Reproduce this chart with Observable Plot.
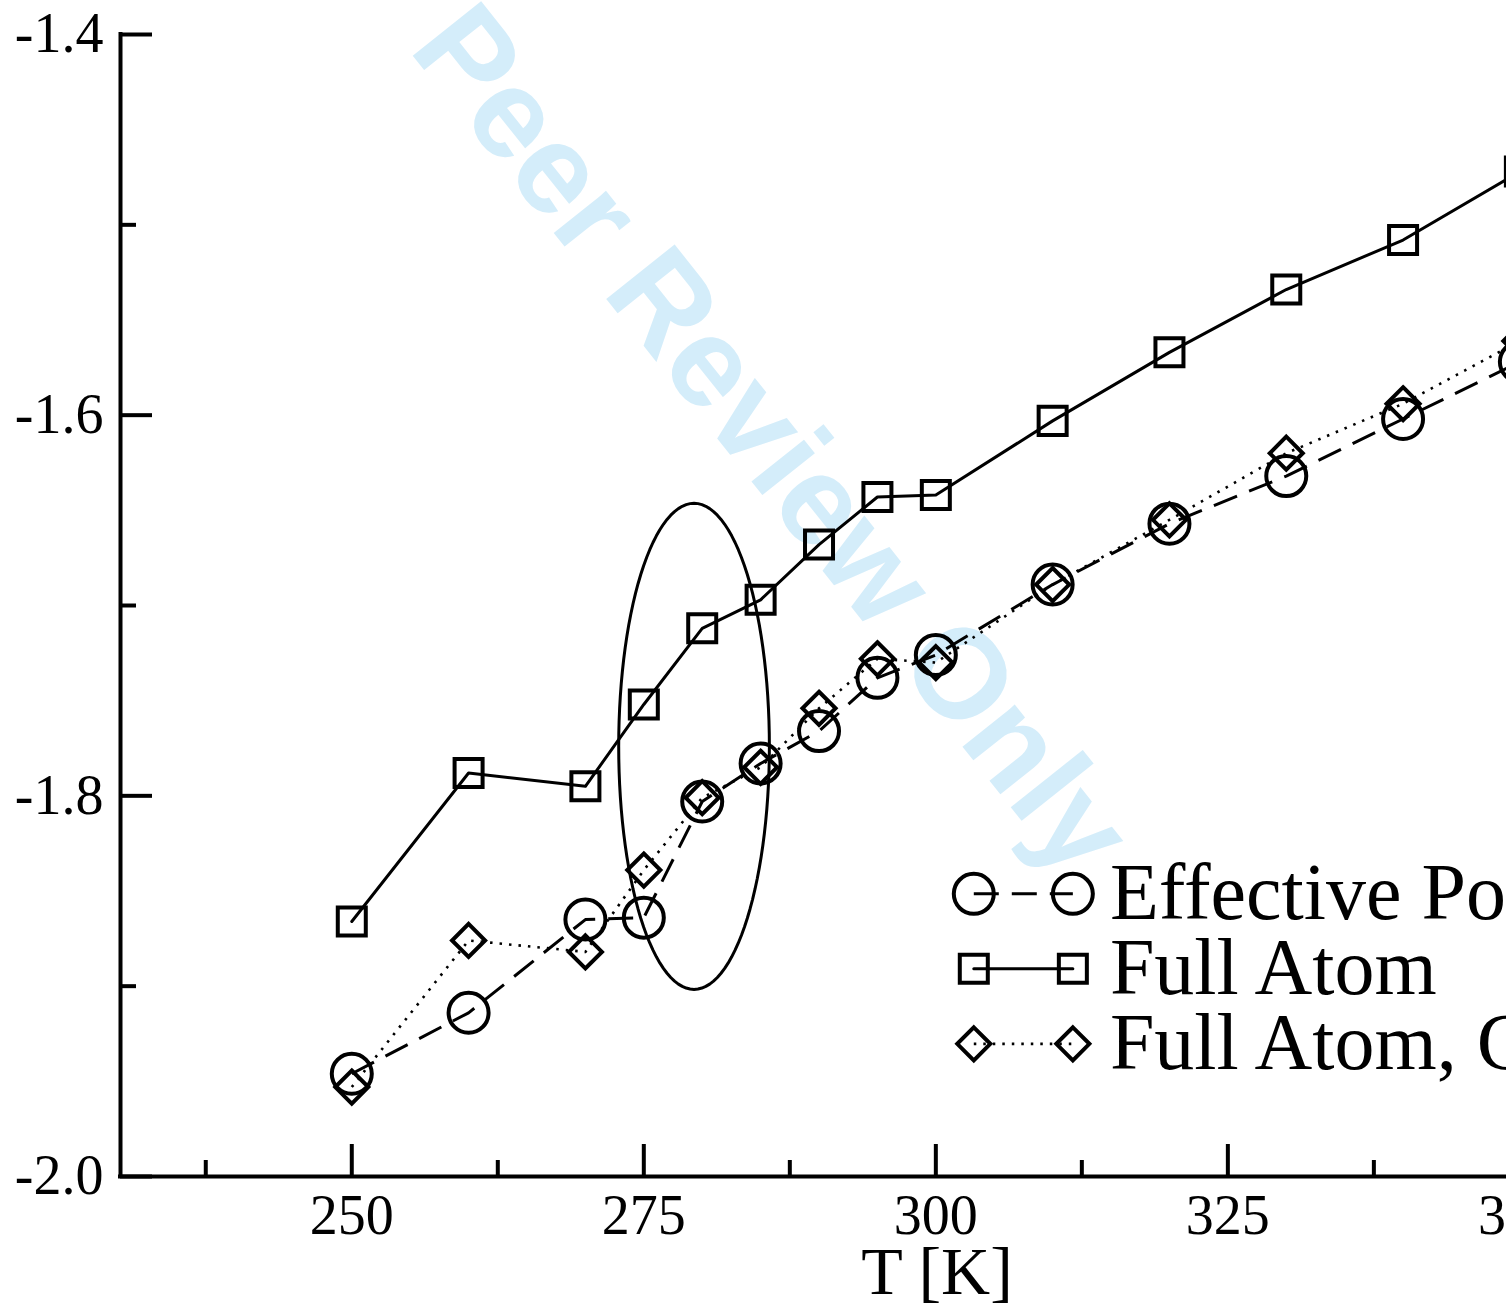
<!DOCTYPE html>
<html><head><meta charset="utf-8">
<script src="https://cdn.jsdelivr.net/npm/d3@7"></script>
<script src="https://cdn.jsdelivr.net/npm/@observablehq/plot@0.6"></script>
<style>
html,body{margin:0;padding:0;background:#fff;overflow:hidden;width:1506px;height:1305px;}
#chart svg{max-width:none !important;display:block;}
</style></head><body><div id="chart"></div>
<script>
// ---- data ----
const temperatures = [250,260,270,275,280,285,290,295,300,310,320,330,340,350];
const effectivePotential = [-1.946,-1.914,-1.865,-1.864,-1.803,-1.783,-1.766,-1.738,-1.726,-1.689,-1.657,-1.632,-1.602,-1.572];
const fullAtom = [-1.866,-1.788,-1.795,-1.752,-1.712,-1.697,-1.668,-1.643,-1.642,-1.603,-1.567,-1.534,-1.508,-1.472];
const fullAtomC = [-1.953,-1.876,-1.882,-1.839,-1.801,-1.785,-1.754,-1.728,-1.730,-1.689,-1.655,-1.620,-1.594,-1.561];
const seriesNames = ["Effective Potential","Full Atom","Full Atom, Cutoff"];
const xMajorTicks = [250,275,300,325,350];
const xMinorTicks = [237.5,262.5,287.5,312.5,337.5,362.5];
const yMajorTicks = [-2.0,-1.8,-1.6,-1.4];
const yMinorTicks = [-1.9,-1.7,-1.5];
const xLabel = "T [K]";
const watermark = "Peer Review Only";

// ---- layout ----
const W = 1764, H = 1305, mL = 120, mR = 11, mT = 34, mB = 129;
const frameW = W - mL - mR, frameH = H - mT - mB;
const xDomain = [230.2, 370], yDomain = [-2.0, -1.4];
const serif = "Liberation Serif, Times New Roman, serif";
const ell = {cx: 279.3, cy: -1.774, rx: 6.45, ry: 0.1277};
const leg = {x1: 303.25, x2: 311.73, xText: 314.9, y0: -1.8515, step: -0.0394};
const wm = {x: 285.9, y: -1.6135};

const rows = temperatures.map((t, i) => ({T: t, E: effectivePotential[i], F: fullAtom[i], C: fullAtomC[i]}));
const ellipsePts = d3.range(0, 361, 3).map(a => ({
  x: ell.cx + ell.rx * Math.cos(a * Math.PI / 180),
  y: ell.cy + ell.ry * Math.sin(a * Math.PI / 180)
}));

const styles = [
  {key: "E", dash: "25,13", sw: 3, cap: "butt", symbol: "circle", r: 20},
  {key: "F", dash: null, sw: 3, cap: "round", symbol: "square", r: 15.8},
  {key: "C", dash: "2.5,7", sw: 2.6, cap: "butt", symbol: "diamond2", r: 14.9}
];

const legendRows = seriesNames.map((name, i) => ({name, i, y: leg.y0 + i * leg.step}));

const marks = [
  Plot.text([watermark], {x: () => wm.x, y: () => wm.y, text: d => d, rotate: 51.5,
    fontSize: 127, fontWeight: "bold", fontFamily: "Liberation Sans, Arial, sans-serif",
    fill: "#d4edfa", textAnchor: "middle", lineAnchor: "middle"}),
  Plot.line(ellipsePts, {x: "x", y: "y", stroke: "black", strokeWidth: 3, curve: "linear"})
];

for (const s of styles) {
  marks.push(Plot.line(rows, {x: "T", y: s.key, stroke: "black", strokeWidth: s.sw,
    strokeDasharray: s.dash, strokeLinecap: s.cap, strokeLinejoin: "round"}));
  marks.push(Plot.dot(rows, {x: "T", y: s.key, symbol: s.symbol, r: s.r, stroke: "black",
    strokeWidth: 4, fill: "none"}));
}

// legend
legendRows.forEach(row => {
  const s = styles[row.i];
  marks.push(Plot.line([{x: leg.x1, y: row.y}, {x: leg.x2, y: row.y}], {x: "x", y: "y",
    stroke: "black", strokeWidth: s.sw, strokeDasharray: s.dash, strokeLinecap: s.cap}));
  marks.push(Plot.dot([{x: leg.x1, y: row.y}, {x: leg.x2, y: row.y}], {x: "x", y: "y",
    symbol: s.symbol, r: s.r, stroke: "black", strokeWidth: 4, fill: "none"}));
});
marks.push(Plot.text(legendRows, {x: () => leg.xText, y: "y", text: "name", fontSize: 80,
  fontFamily: serif, textAnchor: "start", lineAnchor: "middle", fill: "black"}));

// axes
marks.push(
  Plot.tickX(xMajorTicks, {x: d => d, insetTop: frameH - 32, stroke: "black", strokeWidth: 4}),
  Plot.tickX(xMinorTicks, {x: d => d, insetTop: frameH - 16, stroke: "black", strokeWidth: 4}),
  Plot.tickY(yMajorTicks, {y: d => d, insetRight: frameW - 32, stroke: "black", strokeWidth: 4}),
  Plot.tickY(yMinorTicks, {y: d => d, insetRight: frameW - 16, stroke: "black", strokeWidth: 4}),
  Plot.ruleY([yDomain[0]], {stroke: "black", strokeWidth: 4, strokeLinecap: "square"}),
  Plot.ruleX([xDomain[0]], {stroke: "black", strokeWidth: 4, strokeLinecap: "square"}),
  Plot.text(xMajorTicks, {x: d => d, y: () => yDomain[0], dy: 40, text: d => String(d),
    fontSize: 56, fontFamily: serif, textAnchor: "middle", lineAnchor: "middle", fill: "black"}),
  Plot.text(yMajorTicks, {x: () => xDomain[0], y: d => d, dx: -17, text: d => d.toFixed(1),
    fontSize: 56, fontFamily: serif, textAnchor: "end", lineAnchor: "middle", fill: "black"}),
  Plot.text([xLabel], {frameAnchor: "bottom", dy: 96, text: d => d, fontSize: 68,
    fontFamily: serif, textAnchor: "middle", lineAnchor: "middle", fill: "black"})
);

const chart = Plot.plot({
  width: W, height: H,
  marginLeft: mL, marginRight: mR, marginTop: mT, marginBottom: mB,
  x: {domain: xDomain, axis: null},
  y: {domain: yDomain, axis: null},
  style: {maxWidth: "none", overflow: "visible", background: "white"},
  marks
});
document.getElementById("chart").appendChild(chart);
</script>
</body></html>
